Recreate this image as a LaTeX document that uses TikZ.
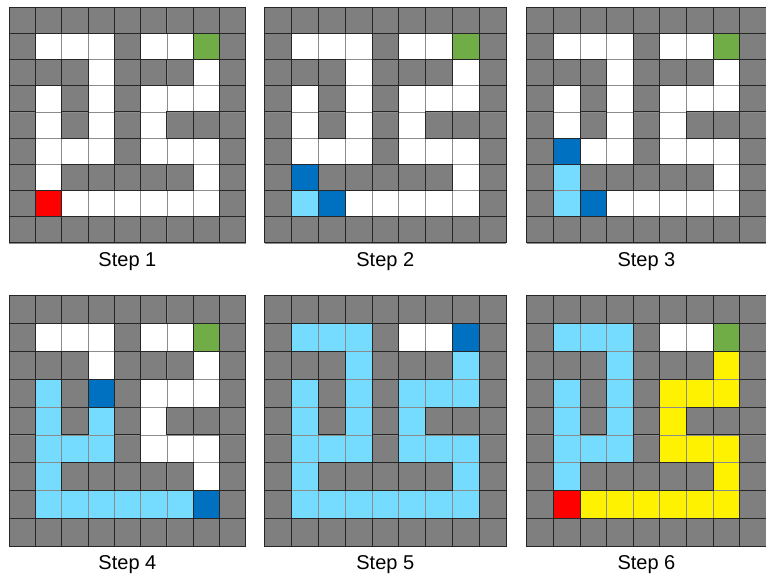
\documentclass[tikz,border=0pt]{standalone}
\usepackage{fontspec}
\setmainfont{Liberation Sans}
\usepackage{xcolor}
\usepackage{tikz}
\usetikzlibrary{positioning,calc}

\definecolor{mazegray}{HTML}{7F7F7F}
\definecolor{goalgreen}{HTML}{70AD47}
\definecolor{pathblue}{HTML}{75DBFF}
\definecolor{headblue}{HTML}{0070C0}

% #1,#2 top left corner, #3,#4 cell size, #5 rows of cell codes
\newcommand{\mazegrid}[5]{%
  \foreach \row [count=\r from 0] in {#5}{
    \foreach \c [count=\k from 0] in \row{
      \fill[cell\c] ({#1+\k*#3},{#2+\r*#4}) rectangle ++(#3,#4);
    }
  }
  \foreach \i in {0,...,9}{
    \draw[gridline] ({#1+\i*#3},#2) -- ++(0,{9*#4});
    \draw[gridline] (#1,{#2+\i*#4}) -- ++({9*#3},0);
  }
  \foreach \row [count=\r from 0] in {#5}{
    \foreach \c [count=\k from 0] in \row{
      \path[edge\c] ({#1+\k*#3},{#2+\r*#4}) rectangle ++(#3,#4);
    }
  }
}

\begin{document}
\begin{tikzpicture}[
    x=0.75pt, y=-0.75pt,
    cellg/.style={fill=mazegray},
    cellw/.style={fill=white},
    celle/.style={fill=goalgreen},
    cellr/.style={fill=red},
    cellb/.style={fill=pathblue},
    celld/.style={fill=headblue},
    celly/.style={fill=yellow},
    gridline/.style={draw=black!45, line width=0.4pt},
    edgeg/.style={draw=black!85, line width=0.6pt},
    edgee/.style={draw=black!85, line width=0.6pt},
    edger/.style={draw=black!85, line width=0.6pt},
    edged/.style={draw=black!85, line width=0.6pt},
    edgew/.style={},
    edgeb/.style={},
    edgey/.style={},
    steplabel/.style={font=\fontsize{15}{18}\selectfont, inner sep=0pt}
]
\useasboundingbox (0,0) rectangle (766,577);

% top row
\mazegrid{9}{7}{26.3}{26.2}{
  {g,g,g,g,g,g,g,g,g},{g,w,w,w,g,w,w,e,g},{g,g,g,w,g,g,g,w,g},
  {g,w,g,w,g,w,w,w,g},{g,w,g,w,g,w,g,g,g},{g,w,w,w,g,w,w,w,g},
  {g,w,g,g,g,g,g,w,g},{g,r,w,w,w,w,w,w,g},{g,g,g,g,g,g,g,g,g}}
\mazegrid{264.7}{7}{26.8}{26.2}{
  {g,g,g,g,g,g,g,g,g},{g,w,w,w,g,w,w,e,g},{g,g,g,w,g,g,g,w,g},
  {g,w,g,w,g,w,w,w,g},{g,w,g,w,g,w,g,g,g},{g,w,w,w,g,w,w,w,g},
  {g,d,g,g,g,g,g,w,g},{g,b,d,w,w,w,w,w,g},{g,g,g,g,g,g,g,g,g}}
\mazegrid{526.7}{7}{26.6}{26.2}{
  {g,g,g,g,g,g,g,g,g},{g,w,w,w,g,w,w,e,g},{g,g,g,w,g,g,g,w,g},
  {g,w,g,w,g,w,w,w,g},{g,w,g,w,g,w,g,g,g},{g,d,w,w,g,w,w,w,g},
  {g,b,g,g,g,g,g,w,g},{g,b,d,w,w,w,w,w,g},{g,g,g,g,g,g,g,g,g}}

% bottom row
\mazegrid{9}{295.3}{26.3}{27.9}{
  {g,g,g,g,g,g,g,g,g},{g,w,w,w,g,w,w,e,g},{g,g,g,w,g,g,g,w,g},
  {g,b,g,d,g,w,w,w,g},{g,b,g,b,g,w,g,g,g},{g,b,b,b,g,w,w,w,g},
  {g,b,g,g,g,g,g,w,g},{g,b,b,b,b,b,b,d,g},{g,g,g,g,g,g,g,g,g}}
\mazegrid{264.7}{295.3}{26.8}{27.9}{
  {g,g,g,g,g,g,g,g,g},{g,b,b,b,g,w,w,d,g},{g,g,g,b,g,g,g,b,g},
  {g,b,g,b,g,b,b,b,g},{g,b,g,b,g,b,g,g,g},{g,b,b,b,g,b,b,b,g},
  {g,b,g,g,g,g,g,b,g},{g,b,b,b,b,b,b,b,g},{g,g,g,g,g,g,g,g,g}}
\mazegrid{526.7}{295.3}{26.6}{27.9}{
  {g,g,g,g,g,g,g,g,g},{g,b,b,b,g,w,w,e,g},{g,g,g,b,g,g,g,y,g},
  {g,b,g,b,g,y,y,y,g},{g,b,g,b,g,y,g,g,g},{g,b,b,b,g,y,y,y,g},
  {g,b,g,g,g,g,g,y,g},{g,r,y,y,y,y,y,y,g},{g,g,g,g,g,g,g,g,g}}

\node[steplabel] (step1) at (127.4,262) {Step 1};
\node[steplabel] (step2) at (385.3,262) {Step 2};
\node[steplabel] (step3) at (646.4,262) {Step 3};
\node[steplabel] (step4) at (127.4,565) {Step 4};
\node[steplabel] (step5) at (385.3,565) {Step 5};
\node[steplabel] (step6) at (646.4,565) {Step 6};
\end{tikzpicture}
\end{document}
